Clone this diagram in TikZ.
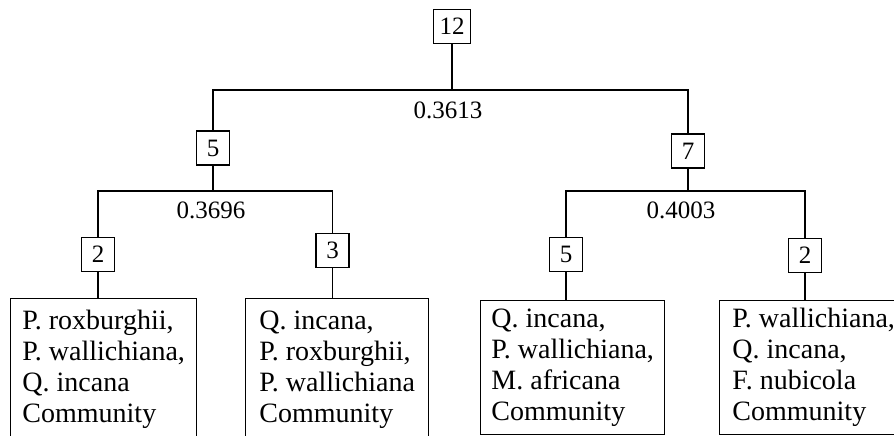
\documentclass[tikz,border=0pt]{standalone}
\usepackage{fontspec}
\setmainfont{Liberation Serif}
\begin{document}
\begin{tikzpicture}[x=0.5pt,y=-0.5pt,line width=0.7pt,
  numbox/.style={draw,inner sep=3pt,minimum width=16.5pt,minimum height=17pt,
    font=\fontsize{12.5}{14}\selectfont},
  leafbox/.style={draw,anchor=north west,align=left,inner sep=0pt,
    font=\fontsize{14}{15.5}\selectfont},
  distval/.style={font=\fontsize{12.5}{14}\selectfont}]
\useasboundingbox (0,0) rectangle (894,435);
\clip (0,0) rectangle (894,435);
% cluster sizes
\node[numbox] (n12) at (452,26.5) {12};
\node[numbox] (n5a) at (213,148) {5};
\node[numbox] (n7) at (688,151) {7};
\node[numbox] (n2a) at (98,254.5) {2};
\node[numbox] (n3) at (332.5,250.5) {3};
\node[numbox] (n5b) at (566,254.5) {5};
\node[numbox] (n2b) at (805,255.5) {2};
% splits
\coordinate (s12) at (452,90);
\coordinate (s5) at (213,191);
\coordinate (s7) at (688,191);
\draw (n12) -- (s12) -| (n5a);
\draw (s12) -| (n7);
\draw (n5a) -- (s5) -| (n2a);
\draw (s5) -| (n3);
\draw (n7) -- (s7) -| (n5b);
\draw (s7) -| (n2b);
\node[distval] (d12) at (448,110) {0.3613};
\node[distval] (d5) at (211,210) {0.3696};
\node[distval] (d7) at (681,210) {0.4003};
% communities
\node[leafbox,minimum width=93pt,minimum height=71pt] (leafa) at (10,298)
  {P. roxburghii,\\P. wallichiana,\\Q. incana\\Community};
\node[leafbox,minimum width=91.5pt,minimum height=71pt] (leafb) at (245,298)
  {Q. incana,\\P. roxburghii,\\P. wallichiana\\Community};
\node[leafbox,minimum width=92pt,minimum height=67pt] (leafc) at (480,300)
  {Q. incana,\\P. wallichiana,\\M. africana\\Community};
\node[leafbox,minimum width=94pt,minimum height=67pt] (leafd) at (719,300)
  {P. wallichiana,\\Q. incana,\\F. nubicola\\Community};
\draw (n2a) -- (n2a |- leafa.north);
\draw (n3) -- (n3 |- leafb.north);
\draw (n5b) -- (n5b |- leafc.north);
\draw (n2b) -- (n2b |- leafd.north);
\end{tikzpicture}
\end{document}
